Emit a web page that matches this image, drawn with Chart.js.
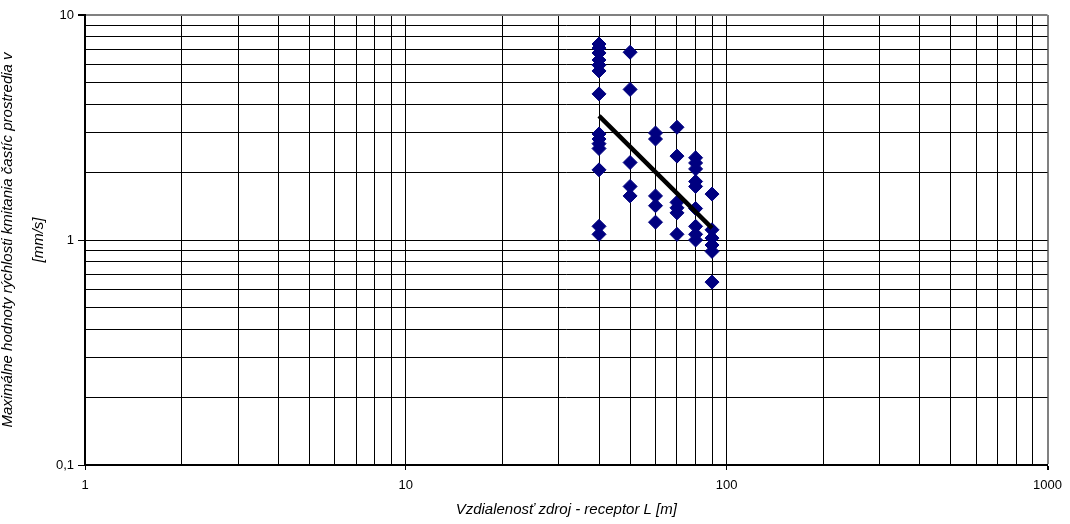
<!DOCTYPE html>
<html>
<head>
<meta charset="utf-8">
<script src="https://cdn.jsdelivr.net/npm/chart.js@4/dist/chart.umd.min.js"></script>
<style>
  html, body { margin: 0; padding: 0; background: #fff; }
  #wrap { width: 1070px; height: 524px; }
</style>
</head>
<body>
<div id="wrap"><canvas id="vibChart" width="1070" height="524"></canvas></div>
<script>
// measured velocities, grouped by source-receptor distance
const distances = [40, 50, 60, 70, 80, 90];
const v40 = [7.43, 7.13, 6.78, 6.31, 5.99, 5.64, 4.46, 2.96, 2.81, 2.68, 2.55, 2.05, 1.15, 1.06];
const v50 = [6.83, 4.67, 2.21, 1.73, 1.57];
const v60 = [2.99, 2.81, 1.57, 1.42, 1.20];
const v70 = [3.17, 2.36, 1.47, 1.39, 1.32, 1.06];
const v80 = [2.32, 2.20, 2.07, 1.82, 1.73, 1.38, 1.15, 1.06, 1.00];
const v90 = [1.60, 1.11, 1.02, 0.95, 0.89, 0.65];

// power trend line end points
const trendX = [40, 90];
const trendY = [3.56, 1.13];

// axes
const xTickValues = [1, 10, 100, 1000];
const xTickLabels = ['1', '10', '100', '1000'];
const yTickValues = [0.1, 1, 10];
const yTickLabels = ['0,1', '1', '10'];

const xTitle = 'Vzdialenosť zdroj - receptor L [m]';
const yTitle = ['Maximálne hodnoty rýchlosti kmitania častíc prostredia v', '', '[mm/s]'];

document.addEventListener('DOMContentLoaded', function() {
  const groups = [v40, v50, v60, v70, v80, v90];
  const points = [];
  groups.forEach((vals, i) => {
    vals.forEach(v => points.push({ x: distances[i], y: v }));
  });
  const trend = trendX.map((x, i) => ({ x: x, y: trendY[i] }));

  // gridlines at 1..9 of every decade
  function decadeGrid(min, max) {
    const out = [];
    for (let d = min; d < max * 0.999; d *= 10) {
      for (let k = 1; k <= 9; k++) out.push(k * d);
    }
    out.push(max);
    return out;
  }

  function labelFor(value, values, labels) {
    const idx = values.findIndex(t => Math.abs(value - t) / t < 1e-6);
    return idx >= 0 ? labels[idx] : '';
  }

  const font = { family: "'Liberation Sans', Arial, sans-serif", size: 13 };
  const titleFont = { family: "'Liberation Sans', Arial, sans-serif", size: 15, style: 'italic' };

  const ctx = document.getElementById('vibChart').getContext('2d');
  new Chart(ctx, {
    type: 'scatter',
    data: {
      datasets: [
        {
          label: 'trend',
          data: trend,
          showLine: true,
          borderColor: '#000000',
          borderWidth: 4.5,
          pointRadius: 0,
          order: 0
        },
        {
          label: 'v',
          data: points,
          pointStyle: 'rectRot',
          pointRadius: 7,
          backgroundColor: '#000080',
          borderColor: '#000080',
          borderWidth: 1,
          order: 1
        }
      ]
    },
    options: {
      responsive: false,
      animation: false,
      events: [],
      layout: { padding: { left: 0, top: 15, right: 21, bottom: 0 } },
      plugins: { legend: { display: false }, tooltip: { enabled: false } },
      scales: {
        x: {
          type: 'logarithmic',
          min: 1,
          max: 1000,
          afterBuildTicks: s => { s.ticks = decadeGrid(1, 1000).map(v => ({ value: v })); },
          afterFit: s => { s.height = 59; },
          border: { color: '#000000', width: 2 },
          grid: {
            color: c => (c.tick && c.tick.value === 1000 ? '#808080' : '#000000'),
            lineWidth: c => (c.tick && c.tick.value === 1000 ? 2 : 1),
            tickLength: 5,
            tickColor: c => (c.tick && labelFor(c.tick.value, xTickValues, xTickLabels) ? '#000000' : 'rgba(0,0,0,0)')
          },
          ticks: {
            autoSkip: false,
            maxRotation: 0,
            padding: 8,
            color: '#000000',
            font: font,
            callback: v => labelFor(v, xTickValues, xTickLabels)
          },
          title: {
            display: true,
            text: xTitle,
            color: '#000000',
            font: titleFont,
            padding: { top: 0, bottom: 5 }
          }
        },
        y: {
          type: 'logarithmic',
          min: 0.1,
          max: 10,
          afterBuildTicks: s => { s.ticks = decadeGrid(0.1, 10).map(v => ({ value: v })); },
          afterFit: s => { s.width = 85; },
          border: { color: '#000000', width: 2 },
          grid: {
            color: c => (c.tick && c.tick.value === 10 ? '#808080' : '#000000'),
            lineWidth: c => (c.tick && c.tick.value === 10 ? 2 : 1),
            tickLength: 7,
            tickColor: c => (c.tick && labelFor(c.tick.value, yTickValues, yTickLabels) ? '#000000' : 'rgba(0,0,0,0)')
          },
          ticks: {
            autoSkip: false,
            padding: 4,
            color: '#000000',
            font: font,
            callback: v => labelFor(v, yTickValues, yTickLabels)
          },
          title: {
            display: true,
            text: yTitle,
            color: '#000000',
            font: Object.assign({}, titleFont, { lineHeight: '15.5px' }),
            padding: { top: 0, bottom: 0 }
          }
        }
      }
    }
  });
});
</script>
</body>
</html>
